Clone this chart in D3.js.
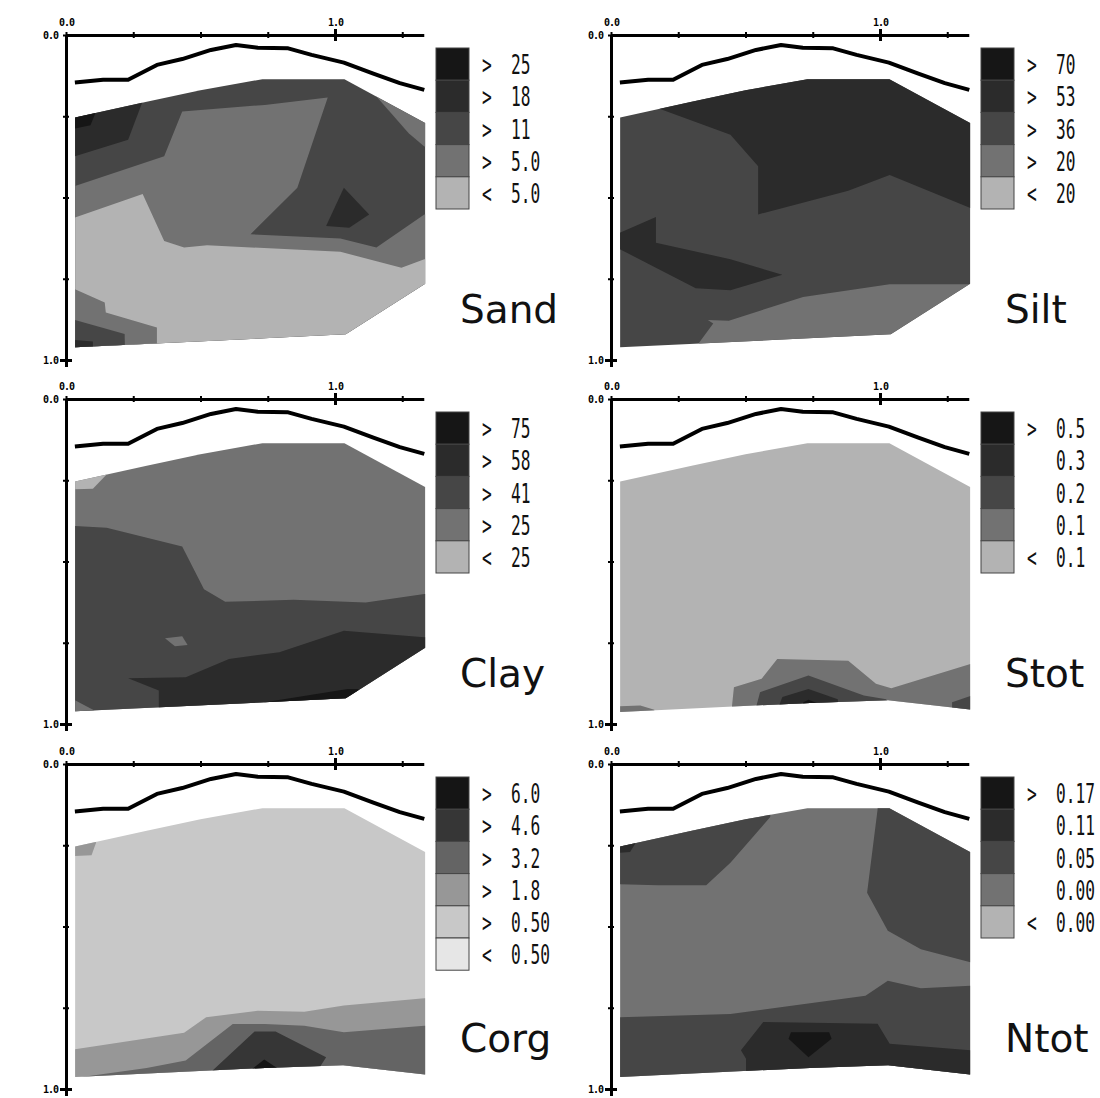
<!DOCTYPE html>
<html>
<head>
<meta charset="utf-8">
<script src="https://cdn.jsdelivr.net/npm/d3@7"></script>
<style>
  body { margin: 0; background: #fff; }
  .tick text { font-family: "DejaVu Sans Mono", monospace; font-weight: bold; font-size: 10px; letter-spacing: -1px; fill: #000; }
  .legend-text { font-family: "DejaVu Sans Mono", monospace; font-size: 27px; fill: #111; }
  .panel-name { font-family: "DejaVu Sans", sans-serif; font-size: 39px; fill: #111; }
</style>
</head>
<body>
<div id="chart"></div>
<script>
// axes
const xTicks = [0, 0.25, 0.5, 0.75, 1, 1.25];
const yTicks = [0, 0.25, 0.5, 0.75, 1];
const labelTicks = [0, 1];

// ground surface (x, depth)
const surfaceLine = [[0.033, 0.146], [0.138, 0.138], [0.231, 0.138], [0.338, 0.092], [0.432, 0.074],
  [0.539, 0.046], [0.632, 0.031], [0.713, 0.039], [0.826, 0.041], [0.913, 0.061], [1.033, 0.085],
  [1.140, 0.118], [1.241, 0.148], [1.332, 0.169]];

// outline of the sampled profile
const fieldTop = [[0.034, 0.254], [0.30, 0.205], [0.50, 0.170], [0.73, 0.136], [1.035, 0.136], [1.335, 0.271]];
const boundaryCut = fieldTop.concat([[1.335, 0.765], [1.04, 0.921], [0.034, 0.961]]);
const boundaryFull = fieldTop.concat([[1.335, 0.955], [1.03, 0.927], [0.74, 0.935], [0.034, 0.963]]);

const grays5 = ["#161616", "#2b2b2b", "#464646", "#727272", "#b3b3b3"];
const grays6 = ["#151515", "#363636", "#646464", "#979797", "#c8c8c8", "#e6e6e6"];

// legend labels
const sandLegend = ["> 25", "> 18", "> 11", "> 5.0", "< 5.0"];
const siltLegend = ["> 70", "> 53", "> 36", "> 20", "< 20"];
const clayLegend = ["> 75", "> 58", "> 41", "> 25", "< 25"];
const stotLegend = ["> 0.5", "0.3", "0.2", "0.1", "< 0.1"];
const corgLegend = ["> 6.0", "> 4.6", "> 3.2", "> 1.8", "> 0.50", "< 0.50"];
const ntotLegend = ["> 0.17", "0.11", "0.05", "0.00", "< 0.00"];

// class regions: [class index, polygon in (x, depth)]
const sandRegions = [
  [1, [[0, 0.15], [0.285, 0.15], [0.285, 0.204], [0.231, 0.322], [0.033, 0.373], [0, 0.373]]],
  [0, [[0, 0.2], [0.12, 0.2], [0.108, 0.243], [0.091, 0.278], [0.033, 0.288], [0, 0.288]]],
  [3, [[0, 0.465], [0.033, 0.465], [0.365, 0.373], [0.432, 0.235], [0.739, 0.215], [0.973, 0.192], [0.860, 0.470],
    [0.686, 0.613], [1.020, 0.626], [1.154, 0.654], [1.332, 0.552], [1.4, 0.552], [1.4, 1.05], [0, 1.05]]],
  [3, [[1.154, 0.189], [1.154, 0.1], [1.4, 0.1], [1.4, 0.343], [1.332, 0.343], [1.274, 0.302]]],
  [1, [[1.033, 0.470], [1.127, 0.552], [1.053, 0.593], [0.967, 0.588]]],
  [4, [[0, 0.562], [0.033, 0.562], [0.285, 0.489], [0.365, 0.634], [0.439, 0.654], [0.525, 0.647], [1.020, 0.667],
    [1.247, 0.716], [1.332, 0.690], [1.4, 0.690], [1.4, 1.05], [0, 1.05]]],
  [3, [[0, 0.782], [0.033, 0.782], [0.144, 0.823], [0.148, 0.854], [0.338, 0.900], [0.338, 1.05], [0, 1.05]]],
  [2, [[0, 0.877], [0.033, 0.877], [0.218, 0.920], [0.221, 1.05], [0, 1.05]]],
  [1, [[0, 0.936], [0.100, 0.943], [0.100, 1.05], [0, 1.05]]]
];

const siltRegions = [
  [1, [[0.18, 0.227], [0.18, 0.1], [1.4, 0.1], [1.4, 0.532], [1.336, 0.532], [1.036, 0.431], [0.882, 0.479],
    [0.547, 0.552], [0.547, 0.404], [0.444, 0.307]]],
  [1, [[0, 0.608], [0.035, 0.608], [0.167, 0.560], [0.167, 0.639], [0.444, 0.690], [0.637, 0.738], [0.444, 0.785],
    [0.315, 0.779], [0.035, 0.660], [0, 0.660]]],
  [3, [[0.31, 1.05], [0.328, 0.946], [0.380, 0.888], [0.360, 0.877], [0.438, 0.879], [0.714, 0.806], [1.036, 0.767],
    [1.4, 0.767], [1.4, 1.05]]]
];

const clayRegions = [
  [4, [[0, 0.2], [0.16, 0.2], [0.151, 0.232], [0.100, 0.276], [0.033, 0.278], [0, 0.278]]],
  [2, [[0, 0.391], [0.033, 0.391], [0.151, 0.396], [0.432, 0.454], [0.513, 0.585], [0.592, 0.624], [0.846, 0.618],
    [1.114, 0.626], [1.332, 0.600], [1.4, 0.600], [1.4, 1.05], [0, 1.05]]],
  [3, [[0.368, 0.736], [0.432, 0.730], [0.452, 0.757], [0.405, 0.761]]],
  [1, [[0.345, 1.05], [0.345, 0.897], [0.231, 0.859], [0.445, 0.856], [0.606, 0.800], [0.793, 0.779], [1.033, 0.713],
    [1.332, 0.733], [1.4, 0.733], [1.4, 1.05]]],
  [0, [[0.72, 0.95], [0.739, 0.933], [1.047, 0.892], [1.087, 0.892], [1.1, 0.95]]],
  [3, [[0, 0.927], [0.033, 0.927], [0.104, 0.958], [0.104, 1.05], [0, 1.05]]]
];

const stotRegions = [
  [3, [[0.45, 1.05], [0.450, 0.943], [0.457, 0.887], [0.560, 0.861], [0.618, 0.800], [0.882, 0.805], [0.985, 0.876],
    [1.042, 0.890], [1.336, 0.815], [1.4, 0.815], [1.4, 1.05]]],
  [2, [[0.541, 1.05], [0.541, 0.943], [0.554, 0.902], [0.734, 0.851], [0.940, 0.912], [1.023, 0.924], [1.1, 1.05]]],
  [2, [[1.268, 0.933], [1.336, 0.914], [1.4, 0.914], [1.4, 1.05], [1.268, 1.05]]],
  [1, [[0.625, 1.05], [0.625, 0.943], [0.637, 0.917], [0.734, 0.892], [0.843, 0.924], [0.86, 1.05]]],
  [0, [[0.70, 1.05], [0.715, 0.933], [0.734, 0.925], [0.765, 0.935], [0.78, 1.05]]],
  [3, [[0, 0.946], [0.109, 0.943], [0.161, 0.956], [0.161, 1.05], [0, 1.05]]]
];

const corgRegions = [
  [3, [[0, 0.2], [0.12, 0.2], [0.111, 0.244], [0.095, 0.281], [0.033, 0.283], [0, 0.283]]],
  [3, [[0, 0.878], [0.033, 0.878], [0.439, 0.827], [0.521, 0.779], [0.713, 0.759], [0.886, 0.762], [1.033, 0.743],
    [1.332, 0.721], [1.4, 0.721], [1.4, 1.05], [0, 1.05]]],
  [2, [[0, 0.97], [0.30, 0.935], [0.445, 0.912], [0.620, 0.800], [0.739, 0.800], [0.886, 0.805], [1.033, 0.825],
    [1.332, 0.805], [1.4, 0.805], [1.4, 1.05], [0, 1.05]]],
  [1, [[0.53, 1.05], [0.545, 0.943], [0.701, 0.823], [0.779, 0.823], [0.967, 0.902], [0.941, 0.936], [0.95, 1.05]]],
  [0, [[0.693, 0.938], [0.737, 0.909], [0.786, 0.936], [0.786, 1.05], [0.693, 1.05]]]
];

const ntotRegions = [
  [2, [[0, 0.1], [0.592, 0.1], [0.592, 0.163], [0.444, 0.304], [0.354, 0.373], [0.174, 0.373], [0.035, 0.370], [0, 0.370]]],
  [1, [[0, 0.2], [0.1, 0.2], [0.09, 0.245], [0.071, 0.271], [0, 0.275]]],
  [2, [[0.991, 0.1], [0.991, 0.140], [0.952, 0.396], [1.029, 0.513], [1.152, 0.570], [1.336, 0.610], [1.4, 0.610], [1.4, 0.1]]],
  [2, [[0, 0.779], [0.035, 0.779], [0.444, 0.769], [0.946, 0.713], [1.029, 0.667], [1.152, 0.690], [1.336, 0.682],
    [1.4, 0.682], [1.4, 1.05], [0, 1.05]]],
  [1, [[0.502, 1.05], [0.502, 0.907], [0.483, 0.881], [0.566, 0.794], [0.991, 0.799], [1.036, 0.861], [1.336, 0.881],
    [1.4, 0.881], [1.4, 1.05]]],
  [0, [[0.669, 0.825], [0.811, 0.825], [0.82, 0.845], [0.734, 0.902], [0.66, 0.845]]]
];

const panels = [
  { name: "Sand", legend: sandLegend, colors: grays5, base: 2, boundary: boundaryCut, regions: sandRegions },
  { name: "Silt", legend: siltLegend, colors: grays5, base: 2, boundary: boundaryCut, regions: siltRegions },
  { name: "Clay", legend: clayLegend, colors: grays5, base: 3, boundary: boundaryCut, regions: clayRegions },
  { name: "Stot", legend: stotLegend, colors: grays5, base: 4, boundary: boundaryFull, regions: stotRegions },
  { name: "Corg", legend: corgLegend, colors: grays6, base: 4, boundary: boundaryFull, regions: corgRegions },
  { name: "Ntot", legend: ntotLegend, colors: grays5, base: 3, boundary: boundaryFull, regions: ntotRegions }
];

const width = 1100, height = 1098;
const colX = [66, 611], rowY = [35, 399, 764];
const unitX = 269, unitY = 325;
const xMax = 1.33, yMax = 1.02;

const svg = d3.select("#chart").append("svg")
  .attr("width", width)
  .attr("height", height);

panels.forEach((p, i) => {
  const ox = colX[i % 2], oy = rowY[Math.floor(i / 2)];
  const x = d3.scaleLinear().domain([0, xMax]).range([ox, ox + xMax * unitX]);
  const y = d3.scaleLinear().domain([0, yMax]).range([oy, oy + yMax * unitY]);
  const line = d3.line().x(d => x(d[0])).y(d => y(d[1]));

  const g = svg.append("g");

  // filled classes, clipped to the profile outline
  g.append("clipPath").attr("id", "clip" + i)
    .append("path").attr("d", line(p.boundary) + "Z");

  g.append("path")
    .attr("d", line(p.boundary) + "Z")
    .attr("fill", p.colors[p.base]);

  g.append("g")
    .attr("clip-path", `url(#clip${i})`)
    .selectAll("path")
    .data(p.regions)
    .join("path")
    .attr("d", d => line(d[1]) + "Z")
    .attr("fill", d => p.colors[d[0]]);

  // surface line
  g.append("path")
    .datum(surfaceLine)
    .attr("d", line)
    .attr("fill", "none")
    .attr("stroke", "#000")
    .attr("stroke-width", 4)
    .attr("stroke-linejoin", "round");

  // top axis
  const fmt = d => labelTicks.includes(d) ? d3.format(".1f")(d) : "";
  const ax = g.append("g")
    .attr("transform", `translate(0,${oy})`)
    .call(d3.axisTop(x).tickValues(xTicks).tickSizeOuter(0).tickSizeInner(4).tickPadding(5).tickFormat(fmt));
  ax.select(".domain").attr("stroke", "#000").attr("stroke-width", 3);
  ax.selectAll(".tick line")
    .attr("y1", d => d === 1 ? 6 : 3)
    .attr("y2", d => d === 1 ? -6 : -3)
    .attr("stroke", "#000")
    .attr("stroke-width", d => d === 1 ? 3 : 2);

  // left axis
  const ay = g.append("g")
    .attr("transform", `translate(${ox},0)`)
    .call(d3.axisLeft(y).tickValues(yTicks).tickSizeOuter(0).tickSizeInner(4).tickPadding(4).tickFormat(fmt));
  ay.select(".domain").attr("stroke", "#000").attr("stroke-width", 3);
  ay.selectAll(".tick line")
    .attr("x1", d => d === 1 ? 6 : 3)
    .attr("x2", d => d === 1 ? -6 : -3)
    .attr("stroke", "#000")
    .attr("stroke-width", d => d === 1 ? 3 : 2);

  // legend
  const rowH = 32.2, lx = ox + 370, ly = oy + 13;
  const lg = g.append("g");
  lg.selectAll("rect")
    .data(p.legend)
    .join("rect")
    .attr("x", lx)
    .attr("y", (d, k) => ly + k * rowH)
    .attr("width", 33)
    .attr("height", rowH)
    .attr("fill", (d, k) => p.colors[k])
    .attr("stroke", "#444")
    .attr("stroke-width", 1);

  p.legend.forEach((lab, k) => {
    const parts = lab.split(" ");
    const sym = parts.length > 1 ? parts[0] : "";
    const val = parts[parts.length - 1];
    const cy = ly + k * rowH + rowH / 2 + 10;
    if (sym) {
      lg.append("text").attr("class", "legend-text")
        .attr("transform", `translate(${ox + 416},${cy}) scale(0.6,1)`)
        .text(sym);
    }
    lg.append("text").attr("class", "legend-text")
      .attr("transform", `translate(${ox + 445},${cy}) scale(0.6,1)`)
      .text(val);
  });

  g.append("text")
    .attr("class", "panel-name")
    .attr("x", ox + 394)
    .attr("y", oy + 288)
    .text(p.name);
});
</script>
</body>
</html>
